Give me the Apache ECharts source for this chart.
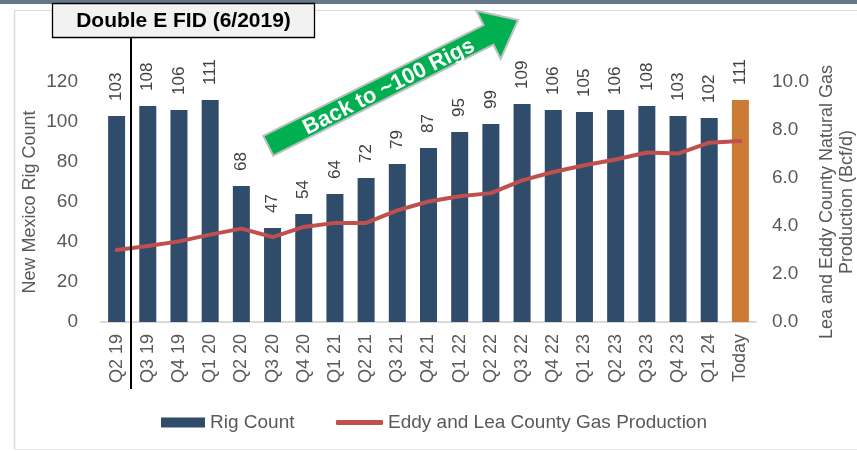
<!DOCTYPE html>
<html>
<head>
<meta charset="utf-8">
<title>New Mexico Rig Count</title>
<script src="https://cdn.jsdelivr.net/npm/echarts@6/dist/echarts.min.js"></script>
<style>
    html, body { margin: 0; padding: 0; background: #fff; }
    #chartsBox_rigs { width: 857px; height: 451px; }
</style>
</head>
<body>
<div id="chartsBox_rigs"></div>
<script>
// 横轴类别
var categories = ['Q2 19', 'Q3 19', 'Q4 19', 'Q1 20', 'Q2 20', 'Q3 20', 'Q4 20',
    'Q1 21', 'Q2 21', 'Q3 21', 'Q4 21', 'Q1 22', 'Q2 22', 'Q3 22', 'Q4 22',
    'Q1 23', 'Q2 23', 'Q3 23', 'Q4 23', 'Q1 24', 'Today'];
// 钻机数量（左轴）
var rigCount = [103, 108, 106, 111, 68, 47, 54, 64, 72, 79, 87, 95, 99, 109, 106,
    105, 106, 108, 103, 102, 111];
// 天然气产量 Bcf/d（右轴）
var gasProduction = [3.0, 3.17, 3.36, 3.64, 3.89, 3.54, 3.96, 4.13, 4.13, 4.65, 5.02,
    5.24, 5.37, 5.9, 6.25, 6.53, 6.77, 7.06, 7.02, 7.47, 7.54];
var legendNames = ['Rig Count', 'Eddy and Lea County Gas Production'];

var font = '"Liberation Sans", Arial, sans-serif';
var grey = '#595959';
var barColor = '#304C6B';
var todayColor = '#CC7B37';
var lineColor = '#C0504D';

// 最后一根柱子（Today）用橙色
var barData = rigCount.map(function (v, i) {
    return i === rigCount.length - 1 ? { value: v, itemStyle: { color: todayColor } } : v;
});

// 绿色箭头的多边形
function arrowPoints() {
    var T = [268.3, 145.8], P = [518, 20];
    var dx = P[0] - T[0], dy = P[1] - T[1];
    var L = Math.sqrt(dx * dx + dy * dy);
    var u = [dx / L, dy / L], n = [-u[1], u[0]];
    var w = 11, h = 27, hl = 33;
    var B = [P[0] - u[0] * hl, P[1] - u[1] * hl];
    function at(p, k) { return [p[0] + n[0] * k, p[1] + n[1] * k]; }
    return [at(T, w), at(T, -w), at(B, -w), at(B, -h), P, at(B, h), at(B, w)];
}
var arrowAngle = Math.atan2(145.8 - 20, 518 - 268.3);

var legendText = { fontSize: 19, color: grey, fontFamily: font };

var chartData = {
    backgroundColor: '#fff',
    animation: false,
    textStyle: { fontFamily: font },
    grid: { left: 101, right: 101, top: 82, bottom: 129, outerBoundsMode: 'none' },
    // 两个图例分开放，线的图例要细一点
    legend: [
        {
            left: 161,
            top: 413,
            padding: 0,
            itemWidth: 44,
            itemHeight: 10,
            textStyle: legendText,
            data: [{ name: legendNames[0], icon: 'rect' }]
        },
        {
            left: 336,
            top: 413,
            padding: 0,
            itemWidth: 47,
            itemHeight: 5,
            textStyle: legendText,
            data: [{ name: legendNames[1], icon: 'roundRect' }]
        }
    ],
    xAxis: {
        type: 'category',
        data: categories,
        axisLine: { lineStyle: { color: '#d9d9d9', width: 2 } },
        axisTick: { show: false },
        axisLabel: {
            interval: 0,
            rotate: 90,
            margin: 12,
            fontSize: 18,
            color: grey,
            fontFamily: font
        }
    },
    yAxis: [
        {
            type: 'value',
            min: 0,
            max: 120,
            interval: 20,
            name: 'New Mexico Rig Count',
            nameLocation: 'middle',
            nameGap: 62,
            nameMoveOverlap: false,
            nameTextStyle: { fontSize: 18, color: grey, fontFamily: font },
            splitLine: { show: false },
            axisLine: { show: false },
            axisTick: { show: false },
            axisLabel: { margin: 23, fontSize: 19, color: grey, fontFamily: font }
        },
        {
            type: 'value',
            min: 0,
            max: 10,
            interval: 2,
            name: 'Lea and Eddy County Natural Gas\nProduction (Bcf/d)',
            nameLocation: 'middle',
            nameRotate: 90,
            nameGap: 61,
            nameMoveOverlap: false,
            nameTextStyle: { fontSize: 18, color: grey, fontFamily: font, lineHeight: 20, align: 'center' },
            splitLine: { show: false },
            axisLine: { show: false },
            axisTick: { show: false },
            axisLabel: {
                margin: 16,
                fontSize: 19,
                color: grey,
                fontFamily: font,
                formatter: function (v) { return v.toFixed(1); }
            }
        }
    ],
    series: [
        {
            name: legendNames[0],
            type: 'bar',
            yAxisIndex: 0,
            barWidth: 17,
            itemStyle: { color: barColor },
            label: {
                show: true,
                position: 'top',
                rotate: 90,
                align: 'left',
                verticalAlign: 'middle',
                distance: 15,
                fontSize: 17,
                color: '#404040',
                fontFamily: font
            },
            data: barData
        },
        {
            name: legendNames[1],
            type: 'line',
            yAxisIndex: 1,
            symbol: 'none',
            lineStyle: { color: lineColor, width: 4, cap: 'round', join: 'round' },
            itemStyle: { color: lineColor },
            z: 3,
            data: gasProduction
        }
    ],
    graphic: [
        // 顶部的边框
        { type: 'rect', shape: { x: 0, y: 0, width: 857, height: 4 }, style: { fill: '#65788a' }, silent: true },
        { type: 'line', shape: { x1: 14, y1: 10.5, x2: 857, y2: 10.5 }, style: { stroke: '#dcdcdc', lineWidth: 1 }, silent: true },
        { type: 'line', shape: { x1: 14.5, y1: 10, x2: 14.5, y2: 449 }, style: { stroke: '#dcdcdc', lineWidth: 1.5 }, silent: true },
        { type: 'line', shape: { x1: 14, y1: 449.5, x2: 857, y2: 449.5 }, style: { stroke: '#e6e6e6', lineWidth: 1 }, silent: true },
        // FID 竖线
        { type: 'line', shape: { x1: 131, y1: 38, x2: 131, y2: 389 }, style: { stroke: '#000', lineWidth: 2 }, z: 10, silent: true },
        // FID 标题框
        {
            type: 'rect',
            shape: { x: 52.5, y: 3.5, width: 262, height: 34 },
            style: { fill: '#f2f2f2', stroke: '#000', lineWidth: 1.3 },
            z: 10,
            silent: true
        },
        {
            type: 'text',
            x: 183.5,
            y: 21,
            style: {
                text: 'Double E FID (6/2019)',
                fill: '#000',
                font: 'bold 21px ' + font,
                align: 'center',
                verticalAlign: 'middle'
            },
            z: 11,
            silent: true
        },
        // 绿色箭头
        {
            type: 'polygon',
            shape: { points: arrowPoints() },
            style: { fill: '#00B050', stroke: '#bfbfbf', lineWidth: 2 },
            z: 10,
            silent: true
        },
        {
            type: 'text',
            x: 389,
            y: 87,
            rotation: arrowAngle,
            style: {
                text: 'Back to ~100 Rigs',
                fill: '#fff',
                font: 'bold 22px ' + font,
                align: 'center',
                verticalAlign: 'middle'
            },
            z: 11,
            silent: true
        }
    ]
};

var chartsObj = echarts.init(document.getElementById('chartsBox_rigs'), null, { renderer: 'canvas' });
chartsObj.setOption(chartData);
</script>
</body>
</html>
